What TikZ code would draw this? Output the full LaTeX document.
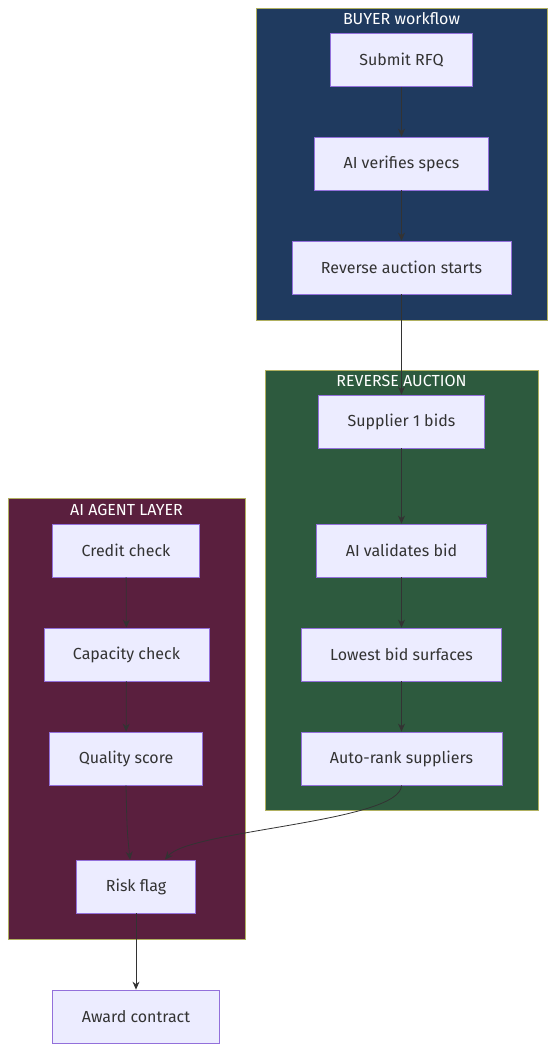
\documentclass[tikz,border=0pt]{standalone}
\usepackage{fontspec}
\setmainfont{Fira Sans}
\usepackage{tikz}
\usetikzlibrary{arrows.meta, positioning}

\definecolor{boxfill}{HTML}{ECECFF}
\definecolor{boxline}{HTML}{9370DB}
\definecolor{clusterline}{HTML}{B0B060}
\definecolor{buyerfill}{HTML}{1F3A5F}
\definecolor{auctionfill}{HTML}{2D5A3E}
\definecolor{agentfill}{HTML}{5A1F3E}
\definecolor{edgeline}{HTML}{333333}

\begin{document}
\begin{tikzpicture}[
            x=1pt, y=-1pt,
            stepbox/.style={rectangle, draw=boxline, fill=boxfill, line width=0.8pt,
                minimum height=53pt, inner xsep=29pt, text=edgeline,
                font=\fontsize{16}{19}\selectfont},
            cluster/.style={draw=clusterline, line width=0.8pt},
            title/.style={text=white, font=\fontsize{16}{19}\selectfont},
            edge/.style={-{Stealth[length=8pt, width=7pt]}, edgeline, line width=0.8pt}
        ]
        \useasboundingbox (0,0) rectangle (555,1052);

        % Clusters
        \draw[cluster, fill=buyerfill] (256,8) rectangle (547,320);
        \draw[cluster, fill=auctionfill] (265,370) rectangle (538,810);
        \draw[cluster, fill=agentfill] (8,498) rectangle (245,939);
        \node[title] (buyerT) at (401.5,19) {BUYER workflow};
        \node[title] (auctionT) at (401.5,381) {REVERSE AUCTION};
        \node[title] (agentT) at (126.5,510) {AI AGENT LAYER};

        % Nodes (manual layout to match figure)
        \node[stepbox] (rfq) at (401.5,60) {Submit RFQ};
        \node[stepbox] (verify) at (401.5,163.5) {AI verifies specs};
        \node[stepbox] (start) at (401.5,267.5) {Reverse auction starts};

        \node[stepbox] (bids) at (401.5,421.5) {Supplier 1 bids};
        \node[stepbox] (validate) at (401.5,550.5) {AI validates bid};
        \node[stepbox] (lowest) at (401.5,654.5) {Lowest bid surfaces};
        \node[stepbox] (rank) at (401.5,758.5) {Auto-rank suppliers};

        \node[stepbox] (credit) at (126,550.5) {Credit check};
        \node[stepbox] (capacity) at (126.5,654.5) {Capacity check};
        \node[stepbox] (quality) at (126,758.5) {Quality score};
        \node[stepbox] (risk) at (136,886.5) {Risk flag};

        \node[stepbox] (award) at (136,1016.5) {Award contract};

        % Edges
        \draw[edge] (rfq) -- (verify);
        \draw[edge] (verify) -- (start);
        \draw[edge] (start) -- (bids);

        \draw[edge] (bids) -- (validate);
        \draw[edge] (validate) -- (lowest);
        \draw[edge] (lowest) -- (rank);

        \draw[edge] (credit) -- (capacity);
        \draw[edge] (capacity) -- (quality);
        \draw[edge] (quality.south) .. controls (127,830) .. (risk.north -| 130,0);
        \draw[edge] (rank.south) .. controls (401,822) and (190,830) .. (risk.north -| 165,0);

        \draw[edge] (risk) -- (award);

    \end{tikzpicture}
\end{document}
